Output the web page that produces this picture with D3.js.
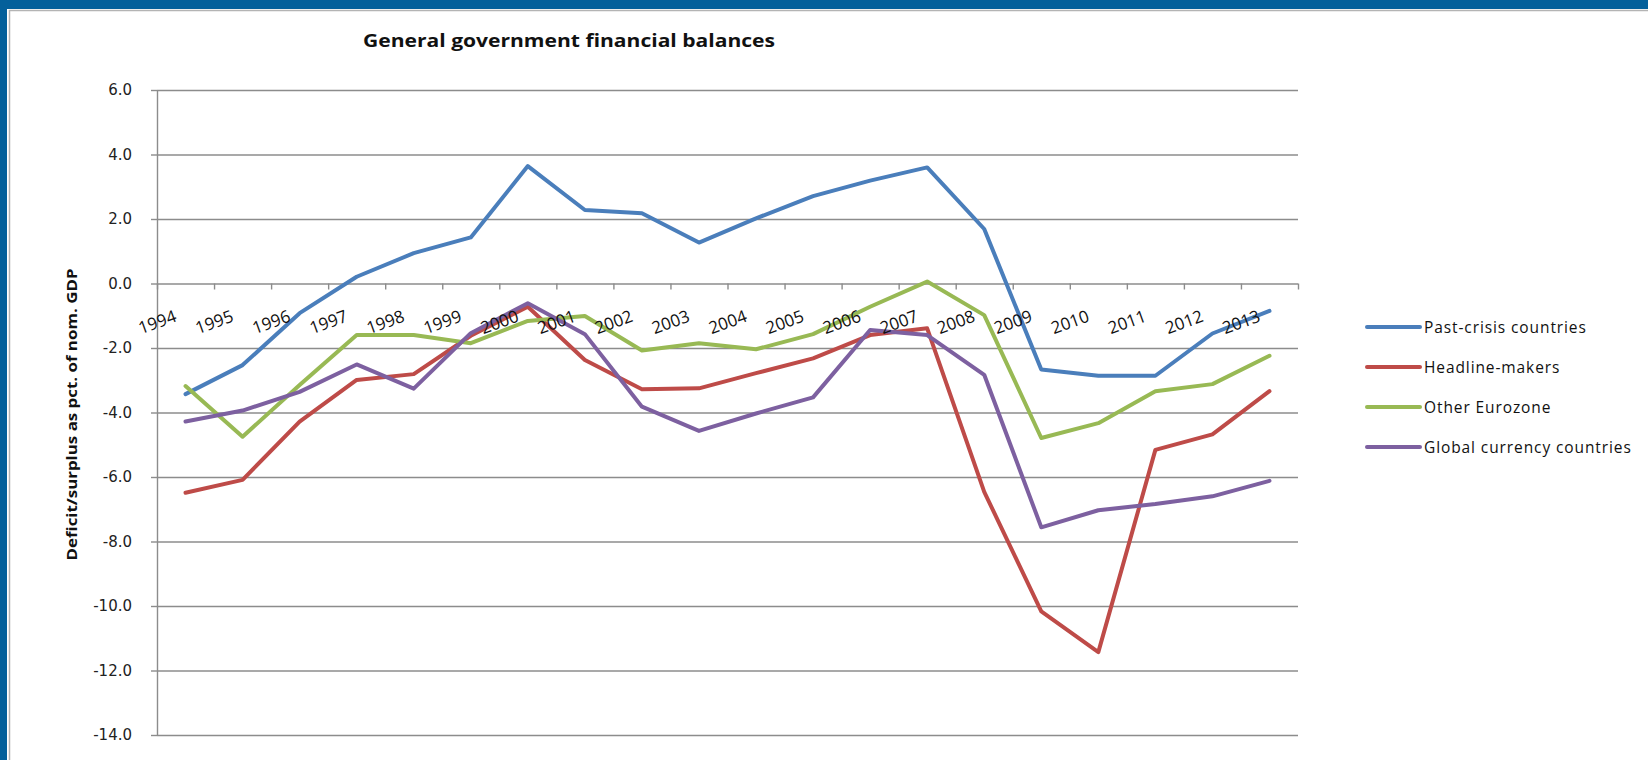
<!DOCTYPE html>
<html>
<head>
<meta charset="utf-8">
<script src="https://cdn.jsdelivr.net/npm/d3@7"></script>
<style>
  html, body { margin: 0; padding: 0; background: #ffffff; }
  svg { display: block; }
</style>
</head>
<body>
<svg id="chart" width="1648" height="760"></svg>
<script>
// Categories (years) and series values, deficit/surplus in % of nominal GDP
const years = ["1994","1995","1996","1997","1998","1999","2000","2001","2002","2003",
               "2004","2005","2006","2007","2008","2009","2010","2011","2012","2013"];

const pastCrisis = [-3.43,-2.53,-0.92,0.21,0.94,1.43,3.64,2.28,2.18,1.27,
                    2.02,2.71,3.19,3.60,1.69,-2.67,-2.86,-2.86,-1.55,-0.85];
const headlineMakers = [-6.49,-6.09,-4.28,-2.99,-2.81,-1.62,-0.72,-2.37,-3.28,-3.25,
                        -2.78,-2.32,-1.60,-1.39,-6.46,-10.17,-11.43,-5.16,-4.68,-3.34];
const otherEurozone = [-3.18,-4.75,-3.15,-1.60,-1.60,-1.85,-1.16,-1.01,-2.08,-1.85,
                       -2.04,-1.57,-0.72,0.06,-0.98,-4.79,-4.33,-3.34,-3.12,-2.24];
const globalCurrency = [-4.28,-3.94,-3.36,-2.51,-3.26,-1.54,-0.61,-1.57,-3.82,-4.57,
                        -4.03,-3.53,-1.44,-1.60,-2.83,-7.56,-7.03,-6.84,-6.60,-6.12];

const seriesNames = ["Past-crisis countries","Headline-makers","Other Eurozone","Global currency countries"];
const seriesColors = ["#4A7EBB","#BE4B48","#98B954","#7D60A0"];

const yTickValues = [6,4,2,0,-2,-4,-6,-8,-10,-12,-14];
const yTickLabels = ["6.0","4.0","2.0","0.0","-2.0","-4.0","-6.0","-8.0","-10.0","-12.0","-14.0"];

const titleText = "General government financial balances";
const yTitleText = "Deficit/surplus as pct. of nom. GDP";

const series = seriesNames.map((name, i) => ({
  name,
  color: seriesColors[i],
  values: [pastCrisis, headlineMakers, otherEurozone, globalCurrency][i]
}));

// Layout
const W = 1648, H = 760;
const plot = { left: 157, right: 1298, top: 90, bottom: 735 };
const frameBlue = "#04609b";

const svg = d3.select("#chart");

// Frame: blue band on top and left, with a thin grey inner rule
svg.append("rect").attr("x", 0).attr("y", 0).attr("width", W).attr("height", 9).attr("fill", frameBlue);
svg.append("rect").attr("x", 0).attr("y", 0).attr("width", 7).attr("height", H).attr("fill", frameBlue);
svg.append("path")
   .attr("d", `M9.5,${H}V10.5H${W}`)
   .attr("fill", "none").attr("stroke", "#b4b4b4").attr("stroke-width", 1.5);

// Scales
const x = d3.scaleBand().domain(years).range([plot.left, plot.right]).paddingInner(0).paddingOuter(0);
const xEdges = d3.scaleLinear().domain([0, years.length]).range([plot.left, plot.right]);
const y = d3.scaleLinear().domain([-14, 6]).range([plot.bottom, plot.top]);
const cx = d => x(d) + x.bandwidth() / 2;

// Horizontal gridlines
svg.append("g")
  .attr("transform", `translate(${plot.left},0)`)
  .call(d3.axisLeft(y).tickValues(yTickValues).tickSize(-(plot.right - plot.left)).tickFormat(""))
  .call(g => g.select(".domain").remove())
  .call(g => g.selectAll("line").attr("stroke", "#8c8c8c").attr("stroke-width", 1.4));

// Value axis with outside ticks and labels
const yAxis = svg.append("g")
  .attr("transform", `translate(${plot.left},0)`)
  .call(d3.axisLeft(y).tickValues(yTickValues).tickSize(6).tickPadding(19)
        .tickFormat((d, i) => yTickLabels[i]));
yAxis.select(".domain").attr("stroke", "#8c8c8c").attr("stroke-width", 1.4)
  .attr("d", `M0.5,${plot.top}V${plot.bottom}`);
yAxis.selectAll("line").attr("stroke", "#8c8c8c").attr("stroke-width", 1.4);
yAxis.selectAll("text")
  .attr("font-family", "'DejaVu Sans', Verdana, sans-serif")
  .attr("font-size", 15).attr("fill", "#222");

// Category axis crossing at zero, ticks between categories
const xAxis = svg.append("g")
  .attr("transform", `translate(0,${y(0)})`)
  .call(d3.axisBottom(xEdges).tickValues(d3.range(0, years.length + 1)).tickSize(6).tickFormat(""));
xAxis.select(".domain").remove();
xAxis.selectAll("line").attr("stroke", "#8c8c8c").attr("stroke-width", 1.4);

// Series lines
const line = d3.line()
  .x((v, i) => cx(years[i]))
  .y(v => y(v));

svg.append("g").selectAll("path")
  .data(series)
  .join("path")
  .attr("d", s => line(s.values))
  .attr("fill", "none")
  .attr("stroke", s => s.color)
  .attr("stroke-width", 4)
  .attr("stroke-linejoin", "round")
  .attr("stroke-linecap", "round");

// Rotated year labels, drawn above the lines
svg.append("g").selectAll("text")
  .data(years)
  .join("text")
  .attr("transform", d => `translate(${cx(d) - 8},${y(0) + 37.5}) rotate(-20)`)
  .attr("text-anchor", "end")
  .attr("font-family", "'Open Sans', sans-serif")
  .attr("font-size", 17)
  .attr("fill", "#111")
  .text(d => d);

// Title
svg.append("text")
  .attr("x", 363).attr("y", 47)
  .attr("font-family", "'Open Sans', sans-serif")
  .attr("font-weight", 700)
  .attr("font-size", 18)
  .attr("textLength", 412)
  .attr("lengthAdjust", "spacingAndGlyphs")
  .attr("fill", "#111")
  .text(titleText);

// Value axis title
svg.append("text")
  .attr("transform", `translate(77,${(plot.top + plot.bottom) / 2 + 2}) rotate(-90)`)
  .attr("text-anchor", "middle")
  .attr("font-family", "'Open Sans', sans-serif")
  .attr("font-weight", 700)
  .attr("font-size", 14.5)
  .attr("textLength", 292)
  .attr("lengthAdjust", "spacingAndGlyphs")
  .attr("fill", "#111")
  .text(yTitleText);

// Legend
const legend = svg.append("g").selectAll("g")
  .data(series)
  .join("g")
  .attr("transform", (s, i) => `translate(1367,${327 + i * 40})`);
legend.append("line")
  .attr("x1", 0).attr("x2", 53).attr("y1", 0).attr("y2", 0)
  .attr("stroke", s => s.color).attr("stroke-width", 4).attr("stroke-linecap", "round");
legend.append("text")
  .attr("x", 57).attr("y", 0).attr("dy", "0.36em")
  .attr("font-family", "'Open Sans', sans-serif")
  .attr("font-size", 15.5)
  .attr("letter-spacing", 0.9)
  .attr("fill", "#111")
  .text(s => s.name);
</script>
</body>
</html>
